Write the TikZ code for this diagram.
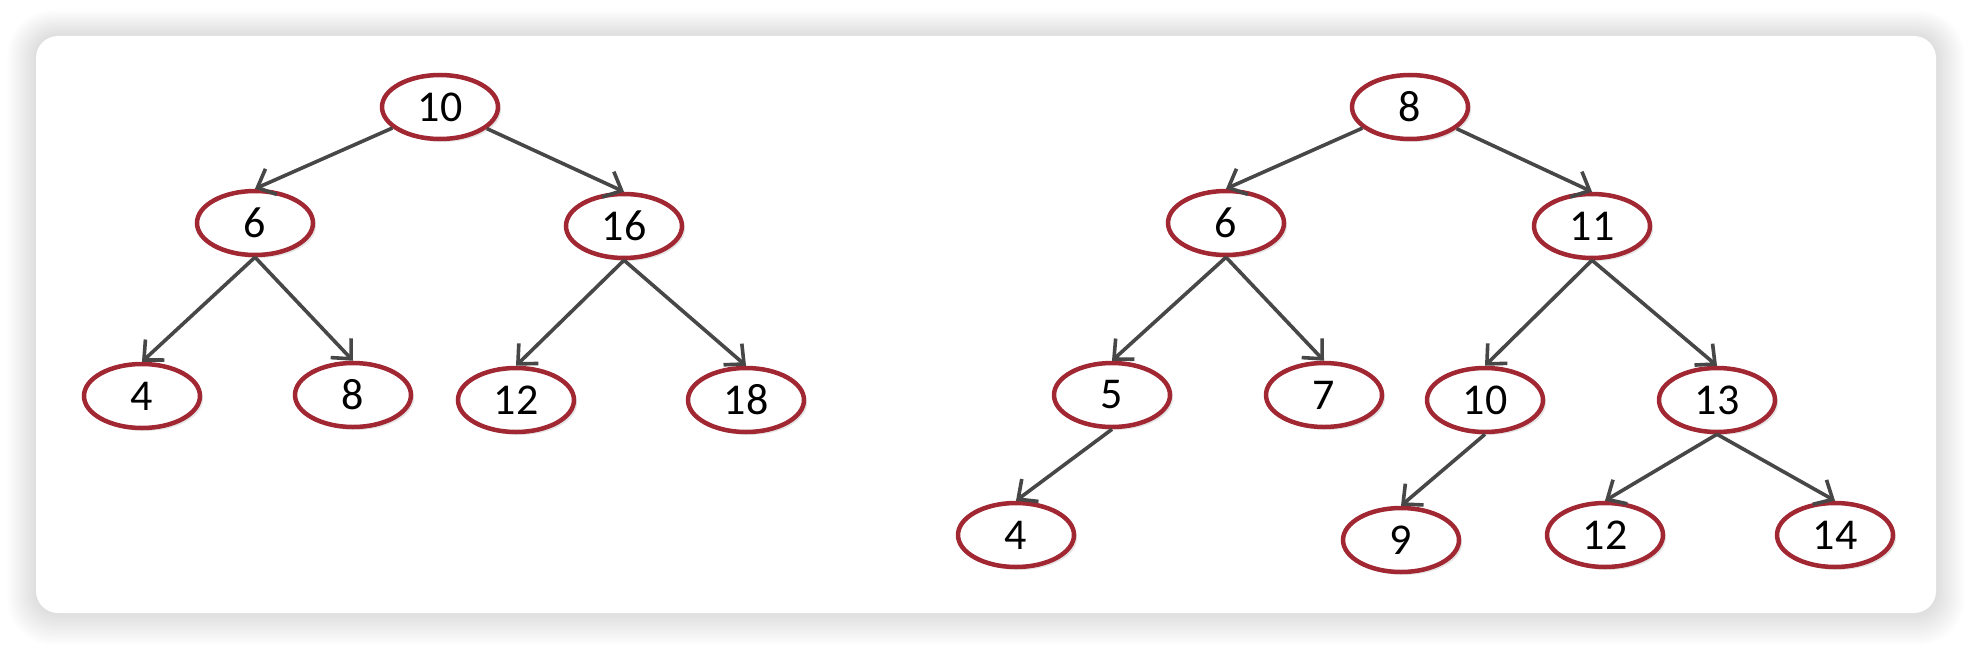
\documentclass[tikz,border=0pt]{standalone}
\usepackage{fontspec}
\setmainfont{Carlito}
\usetikzlibrary{arrows.meta,shapes.geometric,shadows}
\definecolor{ringred}{HTML}{A12833}
\definecolor{edgegray}{HTML}{474747}
\tikzset{
  keynode/.style={ellipse, draw=ringred, line width=4.5pt, fill=white,
    minimum width=116pt, minimum height=64pt, inner sep=0pt,
    font=\fontsize{44pt}{48pt}\selectfont, text=black,
    drop shadow={opacity=0.2, shadow xshift=3pt, shadow yshift=-3pt}},
  link/.style={draw=edgegray, line width=3.6pt,
    -{Straight Barb[length=15pt,width=28pt,line width=3.6pt]}}
}
\begin{document}
\begin{tikzpicture}[x=1pt,y=-1pt]
\useasboundingbox (0,0) rectangle (1972,650);
\fill[white] (0,0) rectangle (1972,650);
% card shadow
\foreach \i in {1,...,16}{
  \fill[black, fill opacity=0.009, rounded corners={22+\i*1.5}]
    (36-\i*1.8,36-\i*1.6) rectangle (1936+\i*1.8,613+\i*2.0);
}
\fill[white, rounded corners=22pt] (36,36) rectangle (1936,613);

% left tree
\node[keynode] (L10) at (440,107) {10};
\node[keynode] (L6)  at (255,223) {6};
\node[keynode] (L16) at (624,226) {16};
\node[keynode] (L4)  at (142,396) {4};
\node[keynode] (L8)  at (353,395) {8};
\node[keynode] (L12) at (516,400) {12};
\node[keynode] (L18) at (746,400) {18};

\draw[link] (L10) -- (L6.north);
\draw[link] (L10) -- (L16.north);
\draw[link] (L6.south) -- (L4.north);
\draw[link] (L6.south) -- (L8.north);
\draw[link] (L16.south) -- (L12.north);
\draw[link] (L16.south) -- (L18.north);

% right tree
\node[keynode] (R8)  at (1410,107) {8};
\node[keynode] (R6)  at (1226,223) {6};
\node[keynode] (R11) at (1592,226) {11};
\node[keynode] (R5)  at (1112,395) {5};
\node[keynode] (R7)  at (1324,395) {7};
\node[keynode] (R10) at (1485,400) {10};
\node[keynode] (R13) at (1717,400) {13};
\node[keynode] (R4)  at (1016,535) {4};
\node[keynode] (R9)  at (1401,540) {9};
\node[keynode] (R12) at (1605,535) {12};
\node[keynode] (R14) at (1835,535) {14};

\draw[link] (R8) -- (R6.north);
\draw[link] (R8) -- (R11.north);
\draw[link] (R6.south) -- (R5.north);
\draw[link] (R6.south) -- (R7.north);
\draw[link] (R11.south) -- (R10.north);
\draw[link] (R11.south) -- (R13.north);
\draw[link] (R5.south) -- (R4.north);
\draw[link] (R10.south) -- (R9.north);
\draw[link] (R13.south) -- (R12.north);
\draw[link] (R13.south) -- (R14.north);
\end{tikzpicture}
\end{document}
